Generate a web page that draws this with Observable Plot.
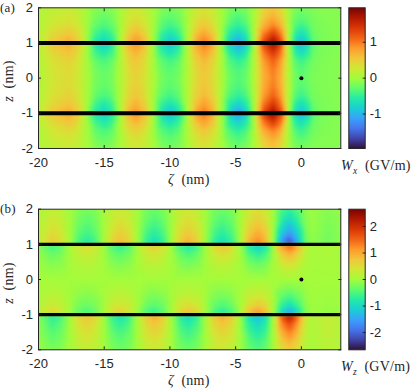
<!DOCTYPE html>
<html><head><meta charset="utf-8">
<script src="https://cdn.jsdelivr.net/npm/d3@7"></script>
<script src="https://cdn.jsdelivr.net/npm/@observablehq/plot@0.6"></script>
<style>
html,body{margin:0;padding:0;background:#fff}
#c{position:relative;width:415px;height:389px;overflow:hidden}
#c svg{position:absolute;background:transparent}
.t{position:absolute;font-family:"Liberation Serif",serif;font-size:14px;color:#262626;white-space:nowrap;line-height:14px;letter-spacing:.25px}
.t i{font-style:italic}
.t sub{font-size:9.5px;line-height:0;font-style:italic}
.p{font-size:13px}
</style></head><body><div id="c"></div>
<script>
const xTicks=[-20,-15,-10,-5,0];
const yTicks=[-2,-1,0,1,2];
const barTicksA=[-1,0,1];
const barTicksB=[-2,-1,0,1,2];
const rangeA=1.96, rangeB=2.65;
const sheets=[-1,1];
const turbo=["#30123b","#4145ab","#4675ed","#39a2fc","#1bcfd4","#24eca6","#61fc6c","#a4fc3b","#d1e834","#f3c63a","#fe9b2d","#f36315","#d93806","#b11901","#7a0402"];

// panel (a): W_x, even in z
const zetaA=[-20,-19,-17.7,-17.03,-16.35,-15.68,-15,-14.4,-13.8,-13.2,-12.6,-11.95,-11.3,-10.65,-10,-9.35,-8.7,-8.05,-7.4,-6.75,-6.1,-5.45,-4.8,-4.2,-3.6,-2.9,-2.15,-1.55,-.95,-.5,0,.5,.9,1.5,3];
const wx2   =[.04,.16,.22,.16,.01,-.12,-.17,-.12,.01,.19,.27,.19,.01,-.14,-.19,-.14,.01,.23,.32,.23,.01,-.16,-.23,-.16,.01,.4,.56,.4,0,-.15,-.2,-.16,-.14,-.13,-.12];
const wx175 =[.05,.21,.29,.21,.02,-.18,-.26,-.18,.02,.24,.34,.24,.02,-.21,-.29,-.21,.02,.28,.4,.28,.02,-.25,-.35,-.25,.02,.5,.7,.5,.01,-.22,-.3,-.23,-.17,-.14,-.12];
const wx15  =[.07,.28,.39,.28,.02,-.27,-.38,-.27,.02,.33,.47,.33,.02,-.31,-.43,-.31,.02,.39,.55,.39,.02,-.37,-.52,-.37,.03,.68,.96,.68,.02,-.32,-.45,-.33,-.21,-.16,-.12];
const wx125 =[.1,.4,.56,.4,.02,-.43,-.6,-.43,.02,.48,.68,.48,.02,-.48,-.67,-.48,.03,.56,.79,.56,.03,-.58,-.81,-.58,.03,.99,1.39,.99,.03,-.5,-.7,-.5,-.25,-.17,-.12];
const wx1   =[.13,.53,.75,.53,.03,-.6,-.85,-.6,.03,.64,.9,.64,.03,-.67,-.95,-.67,.04,.75,1.05,.75,.04,-.82,-1.15,-.82,.04,1.31,1.85,1.31,.04,-.71,-1,-.71,-.3,-.18,-.12];
const wx075 =[.1,.41,.58,.41,.03,-.43,-.61,-.43,.03,.5,.7,.5,.03,-.48,-.68,-.48,.04,.58,.82,.58,.04,-.59,-.83,-.59,.05,1.02,1.44,1.02,.05,-.51,-.72,-.51,-.25,-.17,-.12];
const wx05  =[.08,.33,.47,.33,.03,-.27,-.38,-.27,.04,.4,.56,.4,.04,-.3,-.42,-.3,.05,.46,.65,.46,.05,-.37,-.52,-.37,.06,.82,1.15,.82,.06,-.32,-.45,-.32,-.2,-.16,-.12];
const wx025 =[.07,.29,.41,.29,.04,-.2,-.29,-.2,.05,.36,.5,.36,.05,-.23,-.32,-.23,.06,.41,.58,.41,.06,-.28,-.39,-.28,.07,.72,1.02,.72,.07,-.24,-.34,-.25,-.18,-.15,-.12];
const wx0   =[.07,.28,.39,.28,.05,-.18,-.26,-.18,.06,.33,.47,.33,.06,-.2,-.28,-.2,.07,.39,.55,.39,.07,-.24,-.34,-.24,.08,.68,.96,.68,.08,-.21,-.3,-.22,-.16,-.15,-.12];

// panel (b): W_z, odd in z, flips sign across each sheet
const zetaB=[-20,-19.6,-18.96,-18.3,-17.63,-16.96,-16.3,-15.67,-15.03,-14.4,-13.76,-13.12,-12.47,-11.83,-11.18,-10.54,-9.89,-9.25,-8.6,-7.95,-7.3,-6.65,-6,-5.33,-4.65,-3.98,-3.3,-2.7,-2.1,-1.5,-.9,-.3,.3,.8,1.4,2.05,3];
const wz2   =[.08,.13,.25,.17,0,-.19,-.26,-.19,.01,.21,.3,.21,-.01,-.23,-.33,-.23,0,.23,.33,.23,0,-.23,-.33,-.23,.01,.32,.45,.32,-.03,-.5,-.7,-.46,-.13,-.04,-.1,-.16,-.1];
const wz175 =[.1,.18,.34,.24,0,-.26,-.36,-.26,.01,.29,.41,.29,-.01,-.32,-.45,-.32,0,.32,.45,.32,0,-.32,-.45,-.32,.02,.43,.61,.43,-.05,-.68,-.95,-.63,-.18,-.05,-.12,-.2,-.12];
const wz15  =[.14,.24,.45,.32,0,-.34,-.48,-.34,.02,.38,.54,.38,-.02,-.43,-.6,-.43,0,.43,.6,.43,0,-.43,-.6,-.43,.02,.58,.81,.58,-.06,-.95,-1.32,-.88,-.24,-.07,-.15,-.24,-.13];
const wz125 =[.18,.31,.59,.41,0,-.44,-.62,-.44,.02,.5,.7,.5,-.02,-.55,-.78,-.55,0,.55,.78,.55,0,-.55,-.78,-.55,.03,.75,1.05,.75,-.08,-1.27,-1.75,-1.15,-.31,-.09,-.17,-.26,-.14];
const wzOut =[.23,.4,.75,.53,0,-.57,-.8,-.57,.03,.64,.9,.64,-.03,-.71,-1,-.71,0,.71,1,.71,0,-.71,-1,-.71,.04,.96,1.35,.96,-.1,-1.65,-2.3,-1.5,-.4,-.12,-.2,-.3,-.15];
const wzIn  =[-.18,-.32,-.6,-.43,0,.39,.55,.39,0,-.5,-.7,-.5,0,.5,.7,.5,0,-.6,-.85,-.6,0,.57,.8,.57,-.03,-.85,-1.2,-.85,.05,1.14,1.6,1,.25,.05,.05,.1,.05];
const wz075 =[-.11,-.2,-.37,-.27,0,.24,.34,.24,0,-.31,-.43,-.31,0,.31,.43,.31,0,-.37,-.53,-.37,0,.35,.5,.35,-.02,-.53,-.74,-.53,.03,.71,.99,.62,.16,.03,.03,.06,.03];
const wz05  =[-.06,-.11,-.21,-.15,0,.14,.19,.14,0,-.18,-.25,-.18,0,.18,.25,.18,0,-.21,-.3,-.21,0,.2,.28,.2,-.01,-.3,-.42,-.3,.02,.4,.56,.35,.09,.02,.02,.04,.02];
const wz025 =[-.03,-.05,-.09,-.06,0,.06,.08,.06,0,-.08,-.11,-.08,0,.08,.11,.08,0,-.09,-.13,-.09,0,.09,.12,.09,0,-.13,-.18,-.13,.01,.17,.24,.15,.04,.01,.01,.02,.01];
const wz0   =zetaB.map(()=>0);

const rowsA=[[2,wx2],[1.75,wx175],[1.5,wx15],[1.25,wx125],[1,wx1],[.75,wx075],[.5,wx05],[.25,wx025],[0,wx0]];
const rowsB=[[2,wz2],[1.75,wz175],[1.5,wz15],[1.25,wz125],[1.03,wzOut],[.97,wzIn],[.75,wz075],[.5,wz05],[.25,wz025],[0,wz0]];

function table(zeta,rows,sign){
  const out=[];
  for(const [z,vals] of rows){
    zeta.forEach((x,i)=>{
      out.push({x,z,v:vals[i]});
      if(z!==0) out.push({x,z:-z,v:sign*vals[i]});
    });
  }
  return out;
}

const c=document.getElementById("c");
const ink="#262626", font="Liberation Sans";
const noLabel=()=>"";

function colorScale(range){
  return {type:"linear",domain:[-range,range],interpolate:d3.piecewise(d3.interpolateRgb,turbo)};
}

function panel(data,range,top,mt,mb,barTicks,strip){
  const H=194;
  const main=Plot.plot({
    width:415,height:H,marginLeft:38,marginRight:74.7,marginTop:mt,marginBottom:mb,
    style:{fontFamily:font,fontSize:"13px",color:ink},
    x:{domain:[-20,3],axis:null},
    y:{domain:[-2,2],axis:null},
    color:colorScale(range),
    marks:[
      Plot.raster(data,{x:"x",y:"z",fill:"v",interpolate:"barycentric",pixelSize:1,blur:1}),
      Plot.ruleY(sheets,{stroke:"black",strokeWidth:strip}),
      Plot.dot([{x:0,z:0}],{x:"x",y:"z",r:2,fill:"black",stroke:"none"}),
      Plot.axisX(xTicks,{anchor:"bottom",tickSize:-3,tickPadding:12,tickFormat:String,stroke:ink,fill:ink,label:null}),
      Plot.axisX(xTicks,{anchor:"top",tickSize:-3,tickFormat:noLabel,stroke:ink,label:null}),
      Plot.axisY(yTicks,{anchor:"left",tickSize:-3,tickPadding:8.5,tickFormat:String,stroke:ink,fill:ink,label:null}),
      Plot.axisY(yTicks,{anchor:"right",tickSize:-3,tickFormat:noLabel,stroke:ink,label:null}),
      Plot.frame({stroke:ink,strokeWidth:1})
    ]
  });
  main.style.left="0px";main.style.top=top+"px";
  c.appendChild(main);
  const bar=Plot.plot({
    width:67,height:H,marginLeft:0.3,marginRight:50.3,marginTop:mt,marginBottom:mb,
    style:{fontFamily:font,fontSize:"13px",color:ink},
    x:{domain:[0,1],axis:null},
    y:{domain:[-range,range],axis:null},
    color:colorScale(range),
    marks:[
      Plot.raster({x1:0,x2:1,y1:-range,y2:range,fill:(x,y)=>y,pixelSize:1}),
      Plot.axisY(barTicks,{anchor:"right",tickSize:-3,tickPadding:7.5,tickFormat:String,stroke:ink,fill:ink,label:null}),
      Plot.frame({stroke:ink,strokeWidth:1})
    ]
  });
  bar.style.left="348px";bar.style.top=top+"px";
  c.appendChild(bar);
}
panel(table(zetaA,rowsA,1),rangeA,0,7.3,46,barTicksA,4);
panel(table(zetaB,rowsB,-1),rangeB,195,13.7,39.7,barTicksB,3.4);

function label(html,left,top,rot,cls){
  const d=document.createElement("div");
  d.className="t"+(cls?" "+cls:"");d.innerHTML=html;
  d.style.left=left+"px";d.style.top=top+"px";
  if(rot){d.style.transform="translate(-50%,-50%) rotate(-90deg)";}
  c.appendChild(d);
}
label("(a)",0,1,false,"p");
label("(b)",0,202,false,"p");
label("<i>ζ</i>&nbsp; (nm)",168,173);
label("<i>ζ</i>&nbsp; (nm)",168,374);
label("<i>z</i>&nbsp; (nm)",9,81,true);
label("<i>z</i>&nbsp; (nm)",9,283,true);
label("<i>W<sub>x</sub></i>&nbsp; (GV/m)",341,159);
label("<i>W<sub>z</sub></i>&nbsp; (GV/m)",341,360);
</script></body></html>
